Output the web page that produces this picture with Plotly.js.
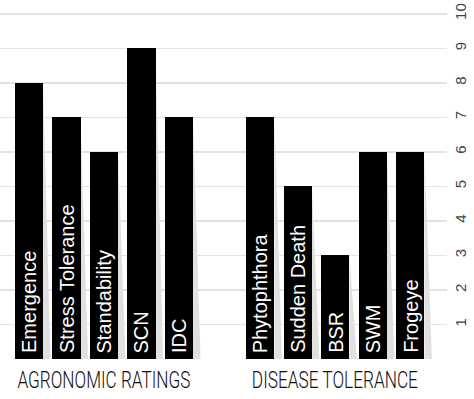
<!DOCTYPE html>
<html>
<head>
<meta charset="utf-8">
<script src="https://cdn.plot.ly/plotly-3.0.1.min.js"></script>
<style>html,body{margin:0;padding:0;background:#fff;}#chart{width:474px;height:399px;}</style>
</head>
<body>
<div id="chart"></div>
<script>
// ---- data ----
const agroCategories = ["Emergence", "Stress Tolerance", "Standability", "SCN", "IDC"];
const agroValues = [8, 7, 6, 9, 7];
const diseaseCategories = ["Phytophthora", "Sudden Death", "BSR", "SWM", "Frogeye"];
const diseaseValues = [7, 5, 3, 6, 6];
const groupLabels = ["AGRONOMIC RATINGS", "DISEASE TOLERANCE"];
const tickValues = [0, 1, 2, 3, 4, 5, 6, 7, 8, 9, 10];
const tickLabels = ["", "1", "2", "3", "4", "5", "6", "7", "8", "9", "10"];

// ---- layout helpers ----
const groupGap = 2.17;
const barWidth = 0.75;
const groupLabelWidths = [173, 166]; // condensed text width in px
const agroX = agroCategories.map((_, i) => i);
const diseaseStart = agroCategories.length - 1 + groupGap;
const diseaseX = diseaseCategories.map((_, i) => diseaseStart + i);

const allX = agroX.concat(diseaseX);
const allY = agroValues.concat(diseaseValues);
const allCats = agroCategories.concat(diseaseCategories);

const trace = {
  type: "bar",
  x: allX,
  y: allY,
  width: barWidth,
  marker: {color: "#000000", line: {width: 0}},
  hoverinfo: "skip"
};

const shapes = allX.map((x, i) => {
  const xr = x + barWidth / 2;
  return {
    type: "path",
    xref: "x", yref: "y",
    path: `M ${xr},${allY[i]} L ${xr + 0.2},0 L ${xr},0 Z`,
    fillcolor: "rgba(0,0,0,0.12)",
    line: {width: 0},
    layer: "below"
  };
});

const annotations = allX.map((x, i) => ({
  x: x, y: 0, xref: "x", yref: "y",
  text: allCats[i],
  textangle: -90,
  showarrow: false,
  xanchor: "center", yanchor: "bottom",
  yshift: 4,
  font: {family: "Liberation Sans, Arial, sans-serif", size: 20, color: "#ffffff"}
}));

const groupCenters = [
  (agroX[0] + agroX[agroX.length - 1]) / 2,
  (diseaseX[0] + diseaseX[diseaseX.length - 1]) / 2
];
groupLabels.forEach((g, i) => {
  annotations.push({
    x: groupCenters[i], y: 0, xref: "x", yref: "y",
    text: g, showarrow: false,
    xanchor: "center", yanchor: "top",
    yshift: -6,
    font: {family: "Roboto, Liberation Sans, sans-serif", size: 23, weight: 300, color: "#111111"}
  });
});

const layout = {
  width: 474, height: 399,
  margin: {l: 0, r: 27, t: 0, b: 40},
  paper_bgcolor: "#ffffff", plot_bgcolor: "#ffffff",
  showlegend: false,
  bargap: 0,
  xaxis: {
    range: [-0.773, 11.147],
    showgrid: false, zeroline: false, showticklabels: false, showline: false, fixedrange: true
  },
  yaxis: {
    side: "right",
    range: [0, 10.4],
    tickvals: tickValues,
    ticktext: tickLabels,
    tickangle: -90,
    showgrid: true,
    gridcolor: "#e2e2e2",
    gridwidth: 1.5,
    zeroline: false,
    showline: false,
    ticks: "",
    ticklabelstandoff: 3,
    tickfont: {family: "Liberation Sans, Arial, sans-serif", size: 15, color: "#444444"},
    fixedrange: true
  },
  shapes: shapes,
  annotations: annotations
};

Plotly.newPlot("chart", [trace], layout, {displayModeBar: false, staticPlot: true}).then(gd => {
  // condense the group labels horizontally (no condensed font installed)
  gd.querySelectorAll("text.annotation-text").forEach(t => {
    const idx = groupLabels.indexOf(t.textContent);
    if (idx >= 0) {
      t.setAttribute("textLength", groupLabelWidths[idx]);
      t.setAttribute("lengthAdjust", "spacingAndGlyphs");
    }
  });
});
</script>
</body>
</html>
